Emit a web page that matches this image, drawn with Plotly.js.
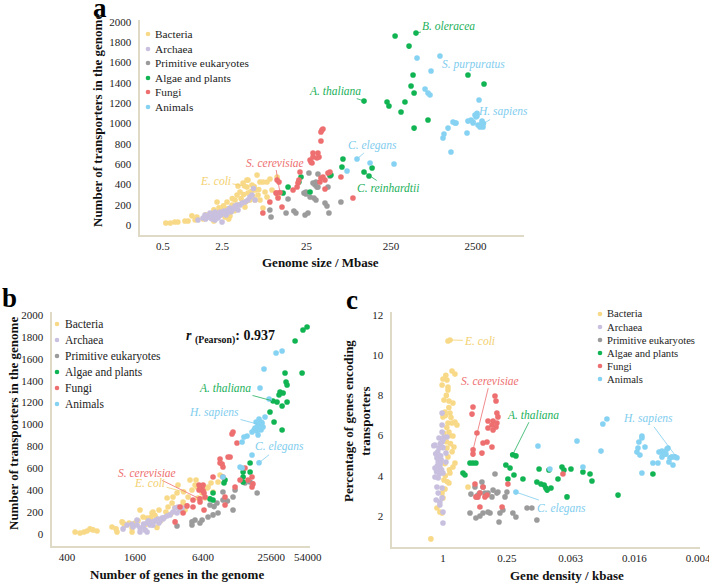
<!DOCTYPE html>
<html><head><meta charset="utf-8">
<script src="https://cdn.plot.ly/plotly-3.0.1.min.js"></script>
<style>html,body{margin:0;padding:0;background:#fff}</style>
</head><body><div id="chart" style="width:709px;height:583px"></div>
<script>
const groups = ['Bacteria','Archaea','Primitive eukaryotes','Algae and plants','Fungi','Animals'];
const colors = ['#F8D987','#C8C0DE','#9B9B9B','#10B452','#EE6F70','#86D2F2'];

// Panel a: [genome size (Mbase), number of transporters]
const aBacteria = [[0.54,20],[0.61,20],[0.69,30],[0.75,30],[0.91,39],[0.99,39],[1.26,79],[1.71,89],[2.18,227],[2.24,128],[2.57,148],[2.71,79],[2.86,227],[3.1,89],[3.28,197],[3.56,246],[3.76,296],[3.86,384],[4.08,325],[4.43,414],[4.67,177],[4.93,374],[5.07,315],[5.07,443],[5.35,246],[5.65,394],[6.14,345],[6.48,493],[6.66,296],[7.03,424],[7.63,424],[8.06,325],[9.23,453],[9.75,345],[7.03,246],[6.14,246],[4.93,443],[8.51,424],[11.2,473],[8.51,276],[7.63,167],[11.5,276],[1.5,60],[1.9,110],[2.0,150],[2.3,170],[2.5,120],[2.6,190],[2.9,160],[3.0,130],[3.3,260],[3.5,140],[3.9,200],[4.2,260],[4.5,300],[4.8,230],[5.5,330],[5.8,280],[6.0,380],[6.8,350],[3.0,60],[2.0,40],[1.6,100],[1.2,50],[1.1,90],[4.6,385]];
const aArchaea = [[1.30,49],[1.49,69],[1.57,99],[1.71,79],[1.80,118],[1.90,59],[1.95,99],[2.06,128],[2.18,108],[2.24,69],[2.37,128],[2.50,118],[2.64,138],[2.79,99],[2.94,148],[3.1,167],[3.28,148],[3.56,187],[3.76,197],[4.08,197],[4.31,217],[4.67,227],[5.07,246],[5.35,276],[5.65,296],[2.50,30],[2.06,49],[3.86,148],[5.9,360],[6.14,246],[1.6,60],[1.75,90],[1.85,70],[2.0,80],[2.1,90],[2.2,100],[2.3,110],[2.4,95],[2.6,120],[2.7,130],[2.9,120],[3.0,140],[3.2,130],[3.4,160]];
const aPrimitive = [[9.2,148],[9.5,79],[14.3,118],[15.1,256],[17.7,138],[18.7,118],[23.3,315],[24.6,305],[24,99],[26,118],[26.7,512],[29.8,414],[31.5,394],[33.2,374],[32.3,424],[34.1,374],[30.6,266],[32.3,246],[41.3,217],[44.8,374],[43.6,187],[46,118],[63.8,227],[34.1,502],[47.3,483],[27.5,276],[24.6,325]];
const aAlgae = [[13.2,315],[15.1,374],[21.5,473],[20.3,424],[27.5,325],[47.3,493],[48.6,493],[67.4,650],[65.6,571],[119.6,522],[149,561],[137,483],[119.6,1221],[224,1212],[236,1172],[365,1212],[328,1113],[468,1300],[455,1478],[431,1369],[684,1034],[468,955],[279,1862],[493,1891],[408,1763],[2032,1478],[3147,1389]];
const aFungi = [[7.6,118],[9.2,227],[10.9,315],[11.5,266],[11.2,443],[11.8,424],[12.8,177],[17.3,345],[19.3,374],[19.8,414],[20.3,443],[20.9,522],[27.5,640],[29,611],[29.8,709],[29.8,670],[34.1,709],[35.1,670],[37,827],[38,936],[37,916],[39.1,946],[36,424],[37,463],[39.1,473],[41.3,443],[41.3,355],[44.8,512],[47.3,522],[63.8,473],[88.5,266],[28.2,620],[33.2,660],[12.1,320],[11.0,315]];
const aAnimals = [[98.8,650],[75.3,532],[141,611],[271,601],[507,1645],[948,1665],[743,1517],[631,1340],[684,1300],[722,1281],[2748,1231],[2600,1074],[2530,1064],[2032,1024],[1980,906],[1429,1005],[1469,1005],[1352,1015],[1180,955],[1057,896],[1029,857],[1279,719],[2208,1034],[2333,1015],[2333,1005],[2462,1084],[2600,1100],[2673,985],[2820,965],[2979,1005],[3062,965],[2979,1024],[3100,1000]];

// Panel b: [number of genes, number of transporters]
const bBacteria = [[471,18],[521,9],[565,18],[601,27],[639,46],[679,37],[737,27],[1000,64],[1086,46],[1107,18],[1227,110],[1253,100],[1304,82],[1416,100],[1504,18],[1504,55],[1770,219],[1884,155],[2043,146],[2261,192],[2307,201],[2502,137],[2606,219],[2831,146],[3071,329],[3133,246],[3467,338],[3760,374],[3837,447],[4256,292],[4430,219],[4711,338],[5102,402],[5429,447],[5770,329],[6266,374],[6659,329],[6934,420],[7520,466],[7834,383],[8670,475],[9036,539],[4900,493],[3400,283],[4256,265],[5543,493],[5653,429],[6397,383],[7079,429],[1600,100],[1700,120],[2000,90],[2200,150],[2400,170],[2700,120],[3000,200],[3300,180],[3600,240],[4000,230],[2500,60],[4300,385]];
const bArchaea = [[1253,46],[1359,82],[1535,64],[1665,82],[1665,128],[1770,55],[1884,64],[1961,37],[2043,100],[2173,82],[2261,100],[2307,110],[2404,119],[2502,128],[2553,137],[2660,119],[2773,146],[2831,137],[3071,164],[3261,174],[3467,201],[3614,237],[3760,192],[3837,246],[3999,219],[4169,237],[1770,18],[2043,18],[1500,90],[1900,90],[2100,120],[2300,80],[2600,100],[2900,150]];
const bPrimitive = [[3760,73],[5102,110],[5429,128],[6266,128],[7079,155],[7834,174],[8670,192],[7362,265],[8491,283],[9594,310],[11770,219],[11770,338],[9594,383],[12270,402],[15030,466],[16670,475],[19230,374],[5102,82],[6000,100],[8000,250],[10500,300]];
const bAlgae = [[48980,1863],[53210,1890],[41690,1762],[33960,1470],[48080,1470],[34670,1388],[35400,1360],[30690,1296],[32660,1287],[30060,1269],[26600,1214],[28860,1205],[35400,1205],[31990,1169],[25000,1114],[27160,1023],[31990,950],[16670,648],[14460,566],[16670,566],[14460,520],[14460,475],[10000,493],[9795,466],[7834,374],[7362,320],[7834,310]];
const bFungi = [[11530,913],[11770,931],[12760,831],[10650,703],[11090,703],[9036,685],[9420,639],[9594,612],[9036,648],[7834,520],[9594,520],[5888,447],[6012,438],[6266,429],[6397,447],[5888,402],[6397,393],[6520,374],[5208,310],[5208,246],[4613,256],[3614,110],[6012,292],[6520,219],[3999,246],[4256,192],[10000,338],[10000,265],[13580,493],[15030,603],[17340,520],[17700,457],[17340,429],[16000,493],[12270,429],[6659,338],[6000,320]];
const bAnimals = [[28300,1653],[31990,1671],[22130,1506],[20400,1333],[24550,1233],[22600,1068],[20000,1050],[20840,1023],[18840,1023],[19600,1013],[20400,995],[21280,1013],[19230,977],[20000,1000],[21700,977],[18450,968],[19230,940],[20840,950],[18070,950],[19600,904],[17340,931],[15670,895],[14720,886],[14160,840],[17340,721],[20000,650],[13580,612],[14160,603],[9594,520]];

// Panel c: [gene density (genes per kbase), percentage of genes encoding transporters]
const cBacteria = [[0.897,10.71],[0.859,10.76],[0.822,9.21],[0.771,9.06],[1.0,8.82],[0.917,8.77],[1.02,8.52],[0.897,8.42],[0.897,8.27],[0.979,7.77],[0.878,7.72],[0.805,7.62],[0.957,7.17],[0.859,7.12],[1.0,6.93],[0.897,6.63],[0.822,6.63],[0.771,6.68],[0.738,6.53],[0.878,6.18],[0.805,5.98],[0.788,5.43],[0.917,5.38],[0.897,4.94],[0.771,4.64],[0.805,4.44],[0.859,4.14],[0.979,3.79],[0.878,3.64],[0.957,3.34],[1.02,3.14],[1.0,2.90],[1.14,2.40],[1.07,2.20],[1.02,2.15],[1.30,0.86],[0.581,3.44],[0.94,9.0],[0.93,8.0],[0.88,7.4],[0.95,7.0],[0.92,6.4],[0.86,6.0],[0.93,5.7],[0.82,5.2],[0.96,4.6],[0.87,4.3],[0.95,4.0],[0.91,3.7],[0.84,6.9],[0.98,6.1],[0.85,5.6]];
const cArchaea = [[1.02,7.12],[1.02,6.53],[1.19,5.53],[1.09,5.88],[1.02,5.68],[1.16,2.80],[1.02,2.90],[1.07,2.55],[1.0,1.65],[1.09,5.38],[1.0,5.78],[0.979,5.93],[1.14,4.89],[1.11,4.69],[1.19,4.39],[1.07,4.44],[1.0,4.14],[1.11,3.89],[1.19,3.94],[1.14,3.44],[1.02,3.39],[1.11,3.14],[1.07,2.70],[1.0,2.20],[0.937,4.69],[0.937,5.13],[0.917,5.93],[1.02,6.18],[1.05,5.0],[1.1,4.9],[1.06,4.6],[1.13,4.5],[1.03,4.3],[1.08,4.1],[1.12,5.2],[1.04,4.8],[1.15,4.2],[1.0,5.4],[1.06,5.6],[1.09,4.3],[1.22,5.5],[1.17,5.1]];
const cPrimitive = [[0.323,4.09],[0.545,3.09],[0.499,3.44],[0.478,2.95],[0.429,3.69],[0.419,3.44],[0.448,3.14],[0.402,3.14],[0.376,3.14],[0.345,2.95],[0.31,3.14],[0.303,3.19],[0.26,2.95],[0.249,3.19],[0.556,2.15],[0.489,1.90],[0.448,2.0],[0.419,2.15],[0.376,2.20],[0.36,2.15],[0.29,2.15],[0.296,1.70],[0.272,2.30],[0.219,2.15],[0.205,1.95],[0.161,2.40],[0.145,2.40],[0.13,1.80],[0.468,3.04],[0.337,3.29]];
const cAlgae = [[0.648,4.14],[0.62,4.04],[0.556,4.64],[0.521,4.64],[0.489,4.64],[0.22,5.05],[0.205,4.99],[0.255,4.54],[0.233,4.39],[0.244,3.84],[0.214,4.04],[0.176,3.84],[0.124,4.34],[0.1,4.29],[0.13,3.69],[0.119,3.59],[0.111,3.54],[0.107,3.39],[0.104,3.29],[0.0957,3.39],[0.0822,3.84],[0.0754,4.44],[0.0722,4.29],[0.062,4.34],[0.0676,2.95],[0.0478,4.19],[0.041,4.09],[0.0393,3.74],[0.0223,3.04],[0.01045,4.09]];
const cFungi = [[0.323,7.97],[0.316,7.72],[0.521,7.42],[0.532,7.07],[0.376,6.73],[0.337,6.73],[0.31,6.63],[0.345,6.53],[0.316,6.43],[0.376,6.38],[0.337,6.28],[0.478,6.13],[0.384,5.68],[0.419,5.63],[0.345,5.43],[0.52,5.3],[0.521,5.08],[0.429,5.13],[0.468,2.95],[0.384,3.04],[0.402,2.95],[0.489,2.95],[0.448,2.45],[0.277,2.45],[0.448,3.14],[0.0738,4.09],[0.499,3.59],[0.419,3.44],[0.244,3.59],[0.303,6.93],[0.31,7.12]];
const cAnimals = [[0.127,5.48],[0.098,4.34],[0.0544,5.73],[0.0478,4.44],[0.031,6.58],[0.0284,6.83],[0.0323,5.23],[0.205,3.19],[0.01327,5.98],[0.01327,5.88],[0.01416,5.68],[0.01446,5.38],[0.01242,5.43],[0.0148,5.18],[0.01386,5.03],[0.01327,4.14],[0.01045,4.64],[0.00937,4.64],[0.00916,5.18],[0.00859,5.23],[0.00822,5.18],[0.0077,5.33],[0.00754,5.38],[0.0084,5.03],[0.00787,5.08],[0.00722,4.89],[0.00691,4.94],[0.00647,4.94],[0.0062,4.9],[0.00676,4.54],[0.00738,4.69],[0.00859,4.94]];

// Tick labels
const aTickVals = [0.5,2.5,25,250,2500];
const aTickText = ['0.5','2.5','25','250','2500'];
const bTickVals = [400,1600,6400,25600,54000];
const bTickText = ['400','1600','6400','25600','54000'];
const cTickVals = [1,0.25,0.0625,0.015625,0.00390625];
const cTickText = ['1','0.25','0.063','0.016','0.004'];
const trTicks = [0,200,400,600,800,1000,1200,1400,1600,1800,2000];
const pctTicks = [2,4,6,8,10,12];

// Labelled organisms: name, group index, x, y
const aLabels = ['E. coli','S. cerevisiae','A. thaliana','B. oleracea','S. purpuratus','H. sapiens','C. elegans','C. reinhardtii'];
const aLabelGroup = [0,4,3,3,5,5,5,3];
const aLabelX = [4.6,12.1,119.6,493,948,3100,98.8,119.6];
const aLabelY = [385,320,1221,1891,1665,1000,650,522];
const bLabels = ['S. cerevisiae','E. coli','A. thaliana','H. sapiens','C. elegans'];
const bLabelGroup = [4,0,3,5,5];
const bLabelX = [6000,4300,26600,20000,20000];
const bLabelY = [320,385,1214,1000,650];
const cLabels = ['E. coli','S. cerevisiae','A. thaliana','H. sapiens','C. elegans'];
const cLabelGroup = [0,4,3,5,5];
const cLabelX = [0.859,0.52,0.22,0.0062,0.205];
const cLabelY = [10.76,5.3,5.05,4.9,3.19];
const pearsonR = 0.937;

// ---------- drawing ----------
const W = 709, H = 583;
const PX = p => p / W, PY = p => 1 - p / H;
const F = 'Liberation Serif, Times New Roman, serif';
const AXC = '#DEDAC6';
const labelColors = ['#F3CF6E','#C8C0DE','#9B9B9B','#21B05A','#EE6F70','#7FCDEE'];

const panels = [
  {sets:[aBacteria,aArchaea,aPrimitive,aAlgae,aFungi,aAnimals], xa:'x', ya:'y'},
  {sets:[bBacteria,bArchaea,bPrimitive,bAlgae,bFungi,bAnimals], xa:'x2', ya:'y2'},
  {sets:[cBacteria,cArchaea,cPrimitive,cAlgae,cFungi,cAnimals], xa:'x3', ya:'y3'}
];
const traces = [];
panels.forEach(p => {
  p.sets.forEach((s, i) => {
    traces.push({type:'scatter', mode:'markers', name:groups[i],
      x:s.map(d=>d[0]), y:s.map(d=>d[1]), xaxis:p.xa, yaxis:p.ya,
      marker:{color:colors[i], size:5.6, line:{width:0}}, showlegend:false, hoverinfo:'x+y+name'});
  });
});

function axis(domain, extra) {
  return Object.assign({domain:domain, showline:true, linecolor:AXC, linewidth:1.6,
    showgrid:false, zeroline:false, ticks:'', fixedrange:true, ticklabeloverflow:'allow',
    tickfont:{family:F, size:11, color:'#222'}}, extra);
}

const layout = {
  width:W, height:H, margin:{l:0,r:0,t:0,b:0}, paper_bgcolor:'#fff', plot_bgcolor:'rgba(0,0,0,0)',
  showlegend:false, font:{family:F},
  xaxis: axis([PX(140),PX(524)], {type:'log', range:[-0.573,3.971], tickvals:aTickVals, ticktext:aTickText, anchor:'y', ticklabelstandoff:0}),
  yaxis: axis([PY(235),PY(20)], {range:[-98.5,2020], tickvals:trTicks, anchor:'x', ticklabelstandoff:5}),
  xaxis2: axis([PX(52),PX(310)], {type:'log', range:[2.469,4.752], tickvals:bTickVals, ticktext:bTickText, anchor:'y2', ticklabelstandoff:0}),
  yaxis2: axis([PY(546),PY(312)], {range:[-110,2027], tickvals:trTicks, anchor:'x2', ticklabelstandoff:5}),
  xaxis3: axis([PX(392),PX(700)], {type:'log', range:[0.481,-2.425], tickvals:cTickVals, ticktext:cTickText, anchor:'y3', ticklabelstandoff:0}),
  yaxis3: axis([PY(547),PY(312)], {range:[0.458,12.15], tickvals:pctTicks, anchor:'x3', ticklabelstandoff:5}),
  annotations:[], shapes:[]
};
const A = layout.annotations, S = layout.shapes;

function pa(px, py, text, o) {
  A.push(Object.assign({xref:'paper', yref:'paper', x:PX(px), y:PY(py), text:text, showarrow:false,
    xanchor:'center', yanchor:'middle', font:{family:F, size:13, color:'#111'}}, o||{}));
}
// panel letters
pa(100, 8, '<b>a</b>', {font:{family:F,size:27,color:'#000'}});
pa(9, 298, '<b>b</b>', {font:{family:F,size:27,color:'#000'}});
pa(352, 300, '<b>c</b>', {font:{family:F,size:27,color:'#000'}});
// axis titles
pa(98, 121, '<b>Number of transporters in the genome</b>', {textangle:-90});
pa(320, 262, '<b>Genome size / Mbase</b>');
pa(13, 424, '<b>Number of transporters in the genome</b>', {textangle:-90});
pa(177, 574, '<b>Number of genes in the genome</b>');
pa(357, 421, '<b>Percentage of genes encoding<br>transporters</b>', {textangle:-90});
pa(567, 575, '<b>Gene density / kbase</b>');
pa(230, 337, '<b><i>r</i> <sub>(Pearson)</sub>: ' + pearsonR + '</b>', {font:{family:F,size:14,color:'#111'}});

// legends (shapes + text)
const legends = [
  {mx:148, tx:153, ys:[34,49,63,78,92,107], fs:11.3},
  {mx:57, tx:63, ys:[324,340,356,372,388,404], fs:11.5},
  {mx:600, tx:605, ys:[314,327,340,353,366,379], fs:10.6}
];
legends.forEach(L => {
  groups.forEach((g, i) => {
    S.push({type:'circle', xref:'paper', yref:'paper', xsizemode:'pixel', ysizemode:'pixel',
      xanchor:PX(L.mx), yanchor:PY(L.ys[i]), x0:-2.3, x1:2.3, y0:-2.3, y1:2.3,
      fillcolor:colors[i], line:{width:0}});
    pa(L.tx, L.ys[i], g, {xanchor:'left', font:{family:F, size:L.fs, color:'#222'}});
  });
});

// organism labels with leader lines
function lab(names, grp, xs, ys, offs, xref, yref) {
  names.forEach((n, i) => {
    A.push({xref:xref, yref:yref, x: Math.log10(xs[i]), y:ys[i],
      text:'<i>'+n+'</i>', showarrow:true, arrowhead:0, arrowwidth:0.8,
      arrowcolor:labelColors[grp[i]], standoff:2, ax:offs[i][0], ay:offs[i][1],
      font:{family:F, size:11.5, color:labelColors[grp[i]]}});
  });
}
lab(aLabels, aLabelGroup, aLabelX, aLabelY, [[-29,-5],[-5,-30],[-29,-10],[33,-7],[34,8],[20,-12],[16,-14],[24,16]], 'x', 'y');
lab(bLabels, bLabelGroup, bLabelX, bLabelY, [[-53,-26],[-34,-9],[-48,-13],[-45,-12],[20,-16]], 'x2', 'y2');
lab(cLabels, cLabelGroup, cLabelX, cLabelY, [[30,1],[17,-69],[20,-40],[-29,-39],[46,16]], 'x3', 'y3');

Plotly.newPlot('chart', traces, layout, {displayModeBar:false, staticPlot:true});
</script></body></html>
